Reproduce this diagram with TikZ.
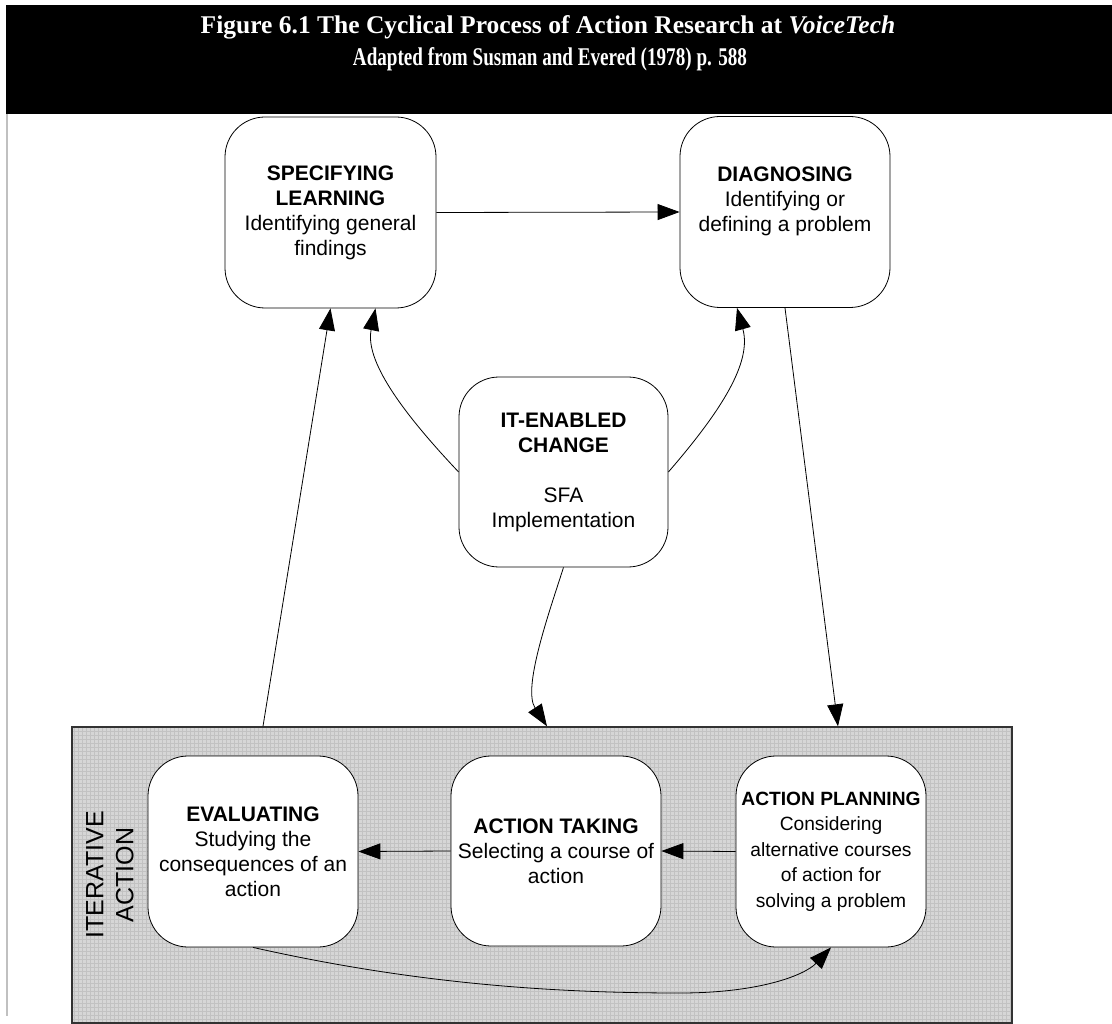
\documentclass[tikz,border=0pt]{standalone}
\usepackage{fontspec}
\setmainfont{Liberation Sans}
\newfontfamily\titlefont{Liberation Serif}
\usetikzlibrary{arrows.meta,calc}

\definecolor{bandgray}{HTML}{C0C0C0}
\definecolor{groupfill}{HTML}{D6D6D6}
\definecolor{gridgray}{HTML}{C2C2C2}
\definecolor{groupedge}{HTML}{333333}

\tikzset{
  stage/.style={draw, line width=0.8pt, rounded corners=40pt, fill=white,
    inner sep=0pt, align=center, font=\fontsize{21}{25}\selectfont},
  conn/.style={line width=0.8pt, -{Triangle[length=22pt,width=16pt]}},
  titleline/.style={text=white, inner sep=0pt,
    font=\titlefont\bfseries\fontsize{25.5}{30}\selectfont},
  groupbox/.style={draw=groupedge, line width=1.4pt, fill=groupfill,
    inner sep=0pt,
    path picture={\draw[gridgray, line width=0.6pt]
      (path picture bounding box.south west) grid[step=4pt]
      (path picture bounding box.north east);}},
}

\begin{document}
\begin{tikzpicture}[x=1pt,y=-1pt]
\useasboundingbox (0,0) rectangle (1112,1024);

% header band
\fill[black] (6,5) rectangle (1112,114);
\draw[bandgray, line width=2.5pt] (7,114) -- (7,1016);
\node[titleline] (t1) at (548,27) {Figure 6.1 The Cyclical Process of Action Research at \textit{VoiceTech}};
\node[titleline] (t2) at (550,59)
  {\scalebox{0.75}[1]{Adapted from Susman and Evered (1978) p. 588}};

% iterative action group
\node[groupbox, minimum width=940pt, minimum height=296pt] (grp) at (542,875) {};
\node[rotate=90, align=center, inner sep=0pt, font=\fontsize{25}{30}\selectfont] (iter) at (110,875) {ITERATIVE\\ACTION};

% stages
\node[stage, minimum width=211pt, minimum height=191pt] (sl) at (330.5,212.5)
  {\textbf{SPECIFYING}\\\textbf{LEARNING}\\Identifying general\\findings};
\node[stage, minimum width=210pt, minimum height=191pt] (dg) at (785,212)
  {\textbf{DIAGNOSING}\\Identifying or\\defining a problem\\\mbox{}};
\node[stage, minimum width=209pt, minimum height=190pt] (it) at (563.5,472)
  {\textbf{IT-ENABLED}\\\textbf{CHANGE}\\[25pt]SFA\\Implementation};
\node[stage, minimum width=210pt, minimum height=191pt] (ev) at (253,851.5)
  {\textbf{EVALUATING}\\Studying the\\consequences of an\\action};
\node[stage, minimum width=210pt, minimum height=190pt] (at) at (556,851)
  {\textbf{ACTION TAKING}\\Selecting a course of\\action};
\node[stage, minimum width=190pt, minimum height=191pt, font=\fontsize{19.2}{25.5}\selectfont] (ap) at (831,851.5)
  {\textbf{ACTION PLANNING}\\Considering\\alternative courses\\of action for\\solving a problem};

% connectors
\draw[conn] (sl.east) -- (dg.west);
\draw[conn] ([xshift=-279pt]grp.north) -- (sl.south);
\draw[conn] (dg.south) -- ([xshift=296pt]grp.north);
\draw[conn] (it.west) .. controls (400,410) and (365,360) .. ([xshift=45pt]sl.south);
\draw[conn] (it.east) .. controls (722,410) and (752,362) .. ([xshift=-48pt]dg.south);
\draw[conn] (it.south) .. controls (550,610) and (522,688) .. ([xshift=5pt]grp.north);
\draw[conn] (ap.west) -- (at.east);
\draw[conn] (at.west) -- (ev.east);
\coordinate (low) at (680,993);
\draw[conn] (ev.south) .. controls (420,985) and (560,993) .. (low)
  .. controls (760,993) and (805,975) .. (ap.south);
\end{tikzpicture}
\end{document}
